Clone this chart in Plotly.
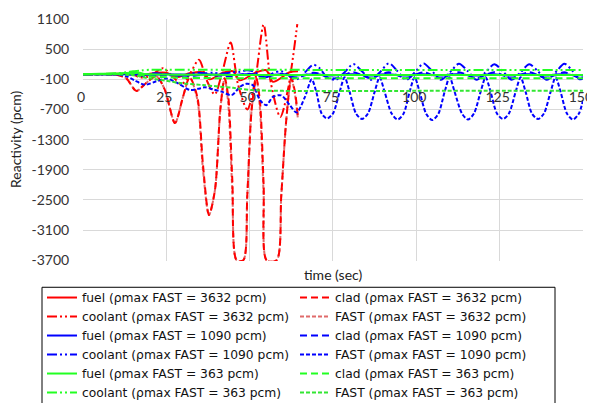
import plotly.graph_objects as go

# ---------------- data ----------------
# rho_max FAST = 3632 pcm (red) -- simulation ends near t = 64.5 s
t_r_fast = [0, 5, 10, 13, 16, 19, 22, 24.5, 27.6, 30, 32, 34.3, 36.0, 37.8, 39.6, 41.2,
            42.5, 43.6, 44.8, 46.1, 48.1, 49.3, 50.6, 52, 53.1, 54.2, 55.1, 58.1, 59.5,
            61, 62.5, 63.6, 64.5]
r_fast = [0, 0, -10, -80, -330, -170, -40, -300, -970, -450, -60, -500, -1900, -2800,
          -2300, -700, -80, -600, -2300, -3700, -3700, -2400, -700, -80, -700, -2400,
          -3700, -3700, -2400, -900, -80, -400, -900]
r_clad = [0, 0, -10, -80, -330, -170, -40, -300, -970, -450, -60, -450, -1800, -2800,
          -2300, -700, -80, -450, -2100, -3700, -3700, -2400, -700, -80, -550, -2200,
          -3700, -3700, -2400, -900, -80, -350, -850]
t_r_cool = [0, 10, 14, 17, 20, 24, 27, 29.5, 32, 34.8, 37, 39.5, 42, 44.3, 46.5, 49.3,
            51.7, 54.2, 56.3, 59.2, 61.5, 64.3]
r_cool = [0, 0, 30, -60, -40, 120, -50, -200, 0, 290, -100, -400, 100, 630, -200, -700,
          -100, 990, -150, -850, -300, 1000]
t_r_fuel = [0, 15, 17, 20, 25, 28, 32, 36, 38, 42, 45, 47, 52, 55, 57, 62, 64.5]
r_fuel = [0, 0, -40, 10, 30, -60, 20, 40, -100, 30, 60, -120, 40, 80, -150, 40, 60]

# rho_max FAST = 1090 pcm (blue)
t_b_fast = [0, 5, 10, 13, 15.5, 18.5, 22, 25, 28.5, 32, 34.5, 36.6, 39, 41.6, 44.6,
            47.1, 49, 51, 53.1, 55, 57, 59.5, 62.1, 64.1, 66.6, 68.6,
            70.0, 71.6, 73.2, 75.0, 77.0, 78.5, 80.0, 81.9, 83.7, 85.5, 87.5, 89.0,
            90.5, 92.6, 94.4, 96.2, 98.0, 99.5, 101.0, 103.0, 104.8, 106.6, 108.5,
            110.0, 111.5, 113.7, 115.5, 117.3, 119.3, 120.8, 122.3, 124.2, 126.0,
            127.8, 129.8, 131.3, 132.8, 134.7, 136.5, 138.3, 140.3, 141.8, 143.3,
            145.2, 147.0, 148.8, 150]
b_fast = [0, 0, 0, -40, -120, -210, -140, -85, -180, -310, -290, -260, -300, -345,
          -415, -250, -190, -220, -515, -615, -450, -420, -620, -760, -450, -100,
          -350, -780, -880, -780, -350, -60, -350, -780, -890, -780, -350, -60,
          -350, -780, -900, -780, -350, -60, -350, -790, -910, -790, -350,
          -60, -350, -780, -900, -780, -350, -60, -350, -780, -890,
          -780, -350, -60, -350, -780, -890, -780, -350, -60, -350,
          -780, -900, -780, -520]

t_b = [0, 5, 10, 13, 15.5, 18.5, 22, 25, 28.5, 32, 34.5, 36.6, 39, 41.6, 44.6, 47.1,
       49, 51, 53.1, 55, 57, 59.5, 62.1, 64.1, 66.6, 69.1, 71, 73.2, 75.8, 78.5, 81.1,
       83.7, 86.4, 89.1, 91.8, 94.4, 97, 99.6, 102.2, 104.8, 107.4, 110.1, 112.8,
       115.5, 118.1, 120.8, 123.4, 126, 128.6, 131.3, 133.9, 136.5, 139.1, 141.8,
       144.4, 147, 149, 150]
b_cool = [0, 0, 0, 10, 20, 0, 20, -10, -30, 10, 30, 20, 30, 10, 40, 50, 80, 60, -20,
          -60, 20, 60, -40, -100, 40, 190, 120, -60, -110, 40, 205, 60, -110, 40, 220,
          60, -110, 40, 215, 60, -110, 40, 210, 60, -110, 40, 200, 60, -110, 40, 200,
          60, -110, 40, 210, 60, -100, -80]
b_clad = [0, 0, 0, 0, -10, -30, -20, -10, -20, -30, -20, -10, -20, -30, -40, -10, 10,
          0, -40, -60, -20, 10, -40, -70, -20, 30, 10, -60, -80, -10, 40, -20, -80,
          -10, 40, -20, -80, -10, 40, -20, -80, -10, 40, -20, -80, -10, 40, -20, -80,
          -10, 40, -20, -80, -10, 40, -20, -70, -60]
b_fuel = [0, 0, 0, 0, -5, -10, -5, 0, -5, -10, -5, 0, -5, -10, -15, -5, 0, -5, -15,
          -20, -10, 0, -15, -25, -10, 0, -5, -25, -20, -5, 0, -15, -25, -5, 0, -15,
          -25, -5, 0, -15, -25, -5, 0, -15, -25, -5, 0, -15, -25, -5, 0, -15, -25, -5,
          0, -15, -20, -20]

# rho_max FAST = 363 pcm (green)
t_g = [0, 5, 10, 13, 15, 17, 18, 20, 25, 30, 36, 45, 51, 60, 100, 150]
g_fuel = [0, 10, 15, 25, 20, 30, 10, 0, -5, -10, -10, -12, -15, -15, -15, -15]
g_clad = [0, 0, 5, 15, 10, -10, -20, -40, -60, -70, -75, -78, -80, -80, -80, -80]
g_cool = [0, 5, 20, 40, 60, 70, 80, 90, 90, 90, 90, 88, 88, 88, 86, 86]
g_fast = [0, 0, 0, -10, -20, -40, -60, -80, -130, -180, -215, -270, -315, -330, -330,
          -330]

# ticks
x_ticks = [0, 25, 50, 75, 100, 125, 150]
y_ticks = [-3700, -3100, -2500, -1900, -1300, -700, -100, 500, 1100]

# ---------------- styles ----------------
RED, RED_L = "#FF0000", "#E06A6A"
BLUE = "#0000FF"
GREEN, GREEN_L = "#22FF22", "#33E633"
FONT = "Lato"
LEG_FONT = "DejaVu Sans"
DASH_CLAD = "7px,4px"
DASH_COOL = "10px,3px,2px,3px,2px,3px"
DASH_FAST = "4px,2px"

series = [
    # (name, t, y, color, dash, rank)
    ("FAST (ρmax FAST = 3632 pcm)", t_r_fast, r_fast, RED_L, DASH_FAST, 4),
    ("clad (ρmax FAST = 3632 pcm)", t_r_fast, r_clad, RED, DASH_CLAD, 2),
    ("fuel (ρmax FAST = 3632 pcm)", t_r_fuel, r_fuel, RED, "solid", 1),
    ("coolant (ρmax FAST = 3632 pcm)", t_r_cool, r_cool, RED, DASH_COOL, 3),
    ("FAST (ρmax FAST = 1090 pcm)", t_b_fast, b_fast, BLUE, DASH_FAST, 8),
    ("fuel (ρmax FAST = 1090 pcm)", t_b, b_fuel, BLUE, "solid", 5),
    ("clad (ρmax FAST = 1090 pcm)", t_b, b_clad, BLUE, DASH_CLAD, 6),
    ("coolant (ρmax FAST = 1090 pcm)", t_b, b_cool, BLUE, DASH_COOL, 7),
    ("FAST (ρmax FAST = 363 pcm)", t_g, g_fast, GREEN_L, DASH_FAST, 12),
    ("fuel (ρmax FAST = 363 pcm)", t_g, g_fuel, GREEN, "solid", 9),
    ("clad (ρmax FAST = 363 pcm)", t_g, g_clad, GREEN, DASH_CLAD, 10),
    ("coolant (ρmax FAST = 363 pcm)", t_g, g_cool, GREEN, DASH_COOL, 11),
]

fig = go.Figure()
for name, t, y, col, dash, rank in series:
    fig.add_trace(go.Scatter(
        x=t, y=y, name=name, mode="lines", legendrank=rank,
        line=dict(color=col, width=2, dash=dash, shape="spline", smoothing=0.8),
    ))

Y_MIN, Y_MAX = -3715, 1100
zero_frac = (0 - Y_MIN) / (Y_MAX - Y_MIN)

# the page body adds an 8 px offset, so the figure is 8 px smaller on each side
fig.update_layout(
    width=587, height=395,
    margin=dict(l=75, r=12, t=11, b=142, autoexpand=False),
    paper_bgcolor="white", plot_bgcolor="white",
    font=dict(family=FONT, size=14, color="#333333"),
    showlegend=True,
    legend=dict(
        orientation="h", x=-0.082, y=-0.091, xanchor="left", yanchor="top",
        entrywidth=208, entrywidthmode="pixels", itemwidth=30,
        bgcolor="rgba(0,0,0,0)", borderwidth=0,
        font=dict(family=LEG_FONT, size=12.3, color="#111111"),
        traceorder="normal",
    ),
    shapes=[
        dict(type="rect", xref="paper", yref="paper",
             x0=-0.082, x1=0.944, y0=-0.1086, y1=-0.62,
             line=dict(color="#000000", width=1), fillcolor="white", layer="below"),
    ],
    xaxis=dict(
        range=[0, 150.02], tickvals=x_ticks, ticktext=[str(v) for v in x_ticks],
        showgrid=True, gridcolor="#D9D9D9", gridwidth=1, zeroline=False,
        showline=False, anchor="free", position=zero_frac,
        ticks="outside", ticklen=10, tickcolor="rgba(0,0,0,0)",
        ticklabeloverflow="allow", ticklabelshift=-2,
        tickfont=dict(family=FONT, size=14, color="#333333"),
    ),
    yaxis=dict(
        range=[Y_MIN, Y_MAX], tickvals=y_ticks, ticktext=[str(v) for v in y_ticks],
        showgrid=True, gridcolor="#D9D9D9", gridwidth=1, zeroline=False,
        showline=False, ticks="outside", ticklen=10, tickcolor="rgba(0,0,0,0)",
        tickfont=dict(family=FONT, size=14, color="#333333"),
    ),
    annotations=[
        dict(text="time (sec)", xref="paper", yref="paper", x=0.5, y=-0.055,
             xanchor="center", yanchor="middle", showarrow=False,
             font=dict(family=FONT, size=14, color="#222222")),
        dict(text="Reactivity (pcm)", xref="paper", yref="paper", x=-0.136, y=0.5,
             xanchor="center", yanchor="middle", showarrow=False, textangle=-90,
             font=dict(family=FONT, size=14, color="#222222")),
    ],
)

fig.write_html("out.html")
